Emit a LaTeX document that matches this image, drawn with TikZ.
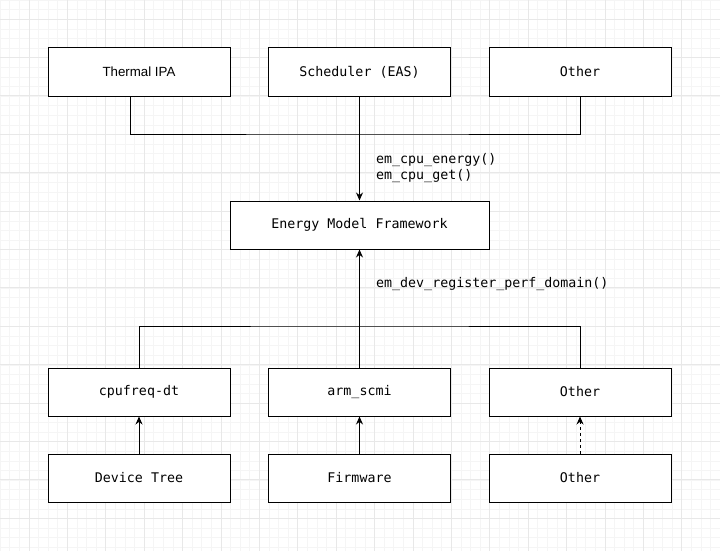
\documentclass[tikz,border=0pt]{standalone}
\usepackage{fontspec}
\setmainfont{Liberation Sans}
\newfontfamily\monofont{DejaVu Sans Mono}
\usetikzlibrary{arrows.meta}
\definecolor{gridminor}{HTML}{F5F5F5}
\definecolor{gridmajor}{HTML}{E8E8E8}
\tikzset{
  box/.style={draw=black, line width=1pt, fill=white, minimum width=182pt, minimum height=48pt, inner sep=0pt, font=\monofont\fontsize{13.3}{16}\selectfont},
  sansbox/.style={box, font=\fontsize{13.3}{16}\selectfont},
  conn/.style={draw=black, line width=1pt},
  arr/.style={conn, -{Stealth[length=8pt,width=7pt]}},
  lbl/.style={anchor=west, inner sep=0pt, align=left, font=\monofont\fontsize{13.3}{16}\selectfont}
}
\begin{document}
\begin{tikzpicture}[x=1pt,y=-1pt]
\useasboundingbox (0,0) rectangle (720,551);
\fill[white] (0,0) rectangle (720,551);
% grid
\foreach \i in {0,...,75} {
  \draw[gridminor, line width=0.8pt] ({0.2+9.6*\i},0) -- ({0.2+9.6*\i},551);
}
\foreach \i in {0,...,58} {
  \draw[gridminor, line width=0.8pt] (0,{0.2+9.6*\i}) -- (720,{0.2+9.6*\i});
}
\foreach \i in {0,...,18} {
  \draw[gridmajor, line width=0.8pt] ({29+38.4*\i},0) -- ({29+38.4*\i},551);
}
\foreach \i in {0,...,14} {
  \draw[gridmajor, line width=0.8pt] (0,{19+38.4*\i}) -- (720,{19+38.4*\i});
}
% nodes
\node[sansbox] (thermal) at (139,72) {Thermal IPA};
\node[box] (sched) at (359.5,72) {Scheduler (EAS)};
\node[box] (othertop) at (580,72) {Other};
\node[box, minimum width=259pt] (emf) at (359.5,225) {Energy Model Framework};
\node[box] (cpufreq) at (139,392) {cpufreq-dt};
\node[box] (scmi) at (359.5,392) {arm\_scmi};
\node[box] (othermid) at (580,392) {Other};
\node[box] (dt) at (139,478) {Device Tree};
\node[box] (fw) at (359.5,478) {Firmware};
\node[box] (otherbot) at (580,478) {Other};
\coordinate (jtop) at (359.5,134);
\coordinate (jbot) at (359.5,326);
% connectors
\draw[conn] ([xshift=-9pt]thermal.south) |- (jtop) -| (othertop.south);
\draw[arr] (sched.south) -- (emf.north);
\draw[arr] (scmi.north) -- (emf.south);
\draw[conn] (cpufreq.north) |- (jbot) -| (othermid.north);
\draw[arr] (dt.north) -- (cpufreq.south);
\draw[arr] (fw.north) -- (scmi.south);
\draw[arr, dashed, dash pattern=on 3pt off 3pt] (otherbot.north) -- (othermid.south);
% labels
\node[lbl] (l1) at (376,168) {em\_cpu\_energy()\\em\_cpu\_get()};
\node[lbl] (l2) at (376,284) {em\_dev\_register\_perf\_domain()};
\end{tikzpicture}
\end{document}
